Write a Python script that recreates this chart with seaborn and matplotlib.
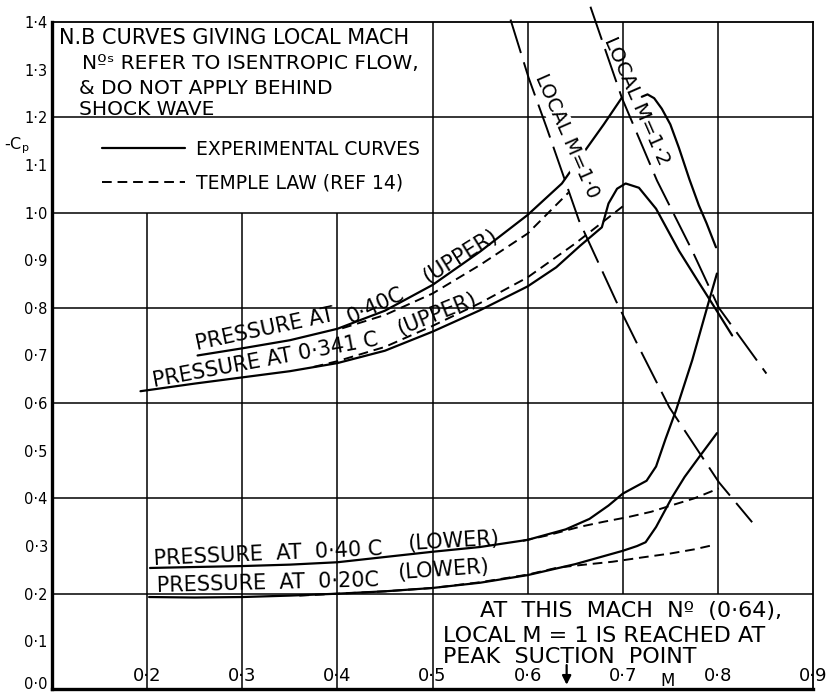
import matplotlib
matplotlib.use("Agg")
import matplotlib.pyplot as plt
from matplotlib.lines import Line2D
import seaborn as sns

# -Cp against free stream Mach number
# upper surface, 0.40c
up40_m = [0.253, 0.30, 0.35, 0.40, 0.45, 0.50, 0.55, 0.60, 0.636, 0.655, 0.68, 0.699]
up40_cp = [0.700, 0.715, 0.732, 0.756, 0.794, 0.848, 0.918, 0.995, 1.061, 1.115, 1.185, 1.241]
up40_hump_m = [0.720, 0.726, 0.733, 0.741, 0.750, 0.759, 0.770, 0.780, 0.788, 0.798]
up40_hump_cp = [1.243, 1.248, 1.240, 1.218, 1.185, 1.136, 1.070, 1.015, 0.978, 0.927]
up40_temple_m = [0.405, 0.45, 0.50, 0.55, 0.60, 0.643]
up40_temple_cp = [0.757, 0.785, 0.830, 0.890, 0.956, 1.042]

# upper surface, 0.341c
up341_m = [0.193, 0.25, 0.30, 0.35, 0.40, 0.45, 0.50, 0.55, 0.60, 0.63, 0.655, 0.678,
           0.685, 0.694, 0.703, 0.717, 0.735, 0.759, 0.78, 0.80, 0.815]
up341_cp = [0.625, 0.641, 0.654, 0.667, 0.684, 0.710, 0.750, 0.795, 0.845, 0.885, 0.930, 0.969,
            1.019, 1.050, 1.061, 1.052, 1.008, 0.920, 0.853, 0.790, 0.742]
up341_temple_m = [0.375, 0.40, 0.45, 0.50, 0.55, 0.60, 0.65, 0.70]
up341_temple_cp = [0.676, 0.688, 0.718, 0.762, 0.810, 0.864, 0.935, 1.013]

# lower surface, 0.40c
lo40_m = [0.203, 0.25, 0.30, 0.35, 0.40, 0.45, 0.50, 0.55, 0.60, 0.64, 0.665, 0.685, 0.70,
          0.712, 0.725, 0.735, 0.745, 0.756, 0.773, 0.79, 0.799]
lo40_cp = [0.254, 0.256, 0.258, 0.261, 0.266, 0.277, 0.288, 0.298, 0.313, 0.335, 0.357, 0.385,
           0.410, 0.423, 0.437, 0.467, 0.525, 0.585, 0.690, 0.810, 0.872]
lo40_temple_m = [0.595, 0.62, 0.654, 0.68, 0.706, 0.73, 0.749, 0.775, 0.801]
lo40_temple_cp = [0.311, 0.322, 0.340, 0.351, 0.361, 0.372, 0.384, 0.400, 0.421]

# lower surface, 0.20c
lo20_m = [0.202, 0.25, 0.30, 0.35, 0.40, 0.45, 0.50, 0.55, 0.60, 0.65, 0.70, 0.715, 0.724,
          0.735, 0.752, 0.765, 0.78, 0.799]
lo20_cp = [0.193, 0.192, 0.193, 0.196, 0.200, 0.205, 0.212, 0.223, 0.239, 0.262, 0.290, 0.300,
           0.308, 0.340, 0.403, 0.445, 0.486, 0.537]
lo20_temple_m = [0.36, 0.40, 0.45, 0.50, 0.55, 0.60, 0.632, 0.66, 0.689, 0.72, 0.749, 0.775, 0.795]
lo20_temple_cp = [0.196, 0.200, 0.205, 0.212, 0.224, 0.240, 0.255, 0.261, 0.267, 0.276, 0.284,
                  0.293, 0.302]

# local Mach number boundaries (isentropic)
local10_m = [0.582, 0.601, 0.62, 0.654, 0.693, 0.717, 0.749, 0.801, 0.836]
local10_cp = [1.405, 1.283, 1.178, 0.983, 0.814, 0.717, 0.591, 0.434, 0.350]
local12_m = [0.666, 0.699, 0.736, 0.773, 0.801, 0.851]
local12_cp = [1.432, 1.241, 1.067, 0.920, 0.800, 0.662]

x_ticks = [0.2, 0.3, 0.4, 0.5, 0.6, 0.7, 0.8, 0.9]
x_tick_labels = ["0·2", "0·3", "0·4", "0·5", "0·6", "0·7", "0·8", "0·9"]
y_ticks = [0.0, 0.1, 0.2, 0.3, 0.4, 0.5, 0.6, 0.7, 0.8, 0.9, 1.0, 1.1, 1.2, 1.3, 1.4]
y_tick_labels = ["0·0", "0·1", "0·2", "0·3", "0·4", "0·5", "0·6", "0·7", "0·8", "0·9",
                 "1·0", "1·1", "1·2", "1·3", "1·4"]
y_minor_ticks = [0.3, 0.5, 0.7, 0.9, 1.1, 1.3]

sns.set_style("white")
plt.rcParams['font.family'] = ['DejaVu Sans']
plt.rcParams['mathtext.fontset'] = 'dejavusans'
plt.rcParams['text.color'] = 'black'
plt.rcParams['axes.labelcolor'] = 'black'
plt.rcParams['xtick.color'] = 'black'
plt.rcParams['ytick.color'] = 'black'

fig = plt.figure(figsize=(8.27, 6.93), dpi=100)
ax = fig.add_axes([0.0629, 0.0058, 0.9202, 0.9625])
ax.set_xlim(0.1, 0.9)
ax.set_ylim(0.0, 1.4)

# grid as hand drawn: left open behind the notes
gk = dict(color='black', lw=1.1, zorder=1)
ax.hlines([0.2, 0.4, 0.6, 0.8, 1.0, 1.2], 0.1, 0.9, **gk)
ax.vlines([0.2, 0.3, 0.4], 0.0, 1.0, **gk)
ax.vlines([0.5], 0.0, 1.4, **gk)
ax.vlines([0.6, 0.7, 0.8], 0.2, 1.4, **gk)

temple_ls = (0, (5, 3))
local_ls = (0, (18, 5))


def curve(m, cp, ls='-', lw=1.6, z=2, clip=True):
    sns.lineplot(x=m, y=cp, ax=ax, color='black', linewidth=lw, linestyle=ls,
                 sort=False, estimator=None, zorder=z, clip_on=clip)


curve(up40_m, up40_cp)
curve(up40_hump_m, up40_hump_cp)
curve(up40_temple_m, up40_temple_cp, ls=temple_ls, lw=1.4)
curve(up341_m, up341_cp)
curve(up341_temple_m, up341_temple_cp, ls=temple_ls, lw=1.4)
curve(lo40_m, lo40_cp)
curve(lo40_temple_m, lo40_temple_cp, ls=temple_ls, lw=1.4)
curve(lo20_m, lo20_cp)
curve(lo20_temple_m, lo20_temple_cp, ls=temple_ls, lw=1.4)
curve(local10_m, local10_cp, ls=local_ls, lw=1.4, z=4, clip=False)
curve(local12_m, local12_cp, ls=local_ls, lw=1.4, z=4, clip=False)

# axes frame and ticks
for side in ['left', 'bottom']:
    ax.spines[side].set_linewidth(2.4)
for side in ['top', 'right']:
    ax.spines[side].set_linewidth(1.3)
for s in ax.spines.values():
    s.set_color('black')

ax.set_xticks(x_ticks, labels=x_tick_labels)
ax.set_yticks(y_ticks, labels=y_tick_labels)
ax.set_yticks(y_minor_ticks, minor=True)
ax.tick_params(axis='x', which='both', length=0, pad=-16, labelsize=13, colors='black')
ax.tick_params(axis='y', which='major', length=0, pad=3, labelsize=10.5, colors='black')
ax.tick_params(axis='y', which='minor', direction='in', length=9, width=1.2, color='black')
ax.get_yticklabels()[0].set_va('baseline')
ax.set_xlabel("")
ax.set_ylabel("")

ax.text(0.063, 1.141, "-C$_\\mathrm{p}$", fontsize=11.5, ha='center', va='center',
        clip_on=False)
ax.text(0.747, 0.017, "M", fontsize=12, ha='center', va='center')
ax.annotate("", xy=(0.641, 0.003), xytext=(0.641, 0.056),
            arrowprops=dict(arrowstyle='-|>', color='black', lw=1.6, mutation_scale=13))

# note, top left
big = 14.5
ax.text(0.1072, 1.354, "N.B CURVES GIVING LOCAL MACH", fontsize=15, va='baseline')
ax.text(0.1314, 1.302, "Nºˢ REFER TO ISENTROPIC FLOW,", fontsize=big, va='baseline')
ax.text(0.1283, 1.249, "& DO NOT APPLY BEHIND", fontsize=big, va='baseline')
ax.text(0.1283, 1.205, "SHOCK WAVE", fontsize=big, va='baseline')

handles = [Line2D([], [], color='black', lw=1.6),
           Line2D([], [], color='black', lw=1.4, linestyle=temple_ls)]
ax.legend(handles, ["EXPERIMENTAL CURVES", "TEMPLE LAW (REF 14)"],
          loc='upper left', bbox_to_anchor=(0.0657, 0.8235), frameon=False,
          borderpad=0, borderaxespad=0, handlelength=4.4, handletextpad=0.6,
          labelspacing=0.8, fontsize=13.5)

# note, bottom right
ax.text(0.5502, 0.151, "AT  THIS  MACH  Nº  (0·64),", fontsize=16, va='baseline')
ax.text(0.5112, 0.0985, "LOCAL M = 1 IS REACHED AT", fontsize=16, va='baseline')
ax.text(0.5112, 0.0545, "PEAK  SUCTION  POINT", fontsize=16, va='baseline')

# curve labels
lab = dict(fontsize=15, ha='left', va='baseline', rotation_mode='anchor')
ax.text(0.2527, 0.711, "PRESSURE AT", rotation=12, **lab)
ax.text(0.4141, 0.766, "0·40C", rotation=25, **lab)
ax.text(0.4954, 0.851, "(UPPER)", rotation=32, **lab)
ax.text(0.2074, 0.634, "PRESSURE AT 0·341 C", rotation=10.5, **lab)
ax.text(0.4660, 0.743, "(UPPER)", rotation=22, **lab)
ax.text(0.2074, 0.260, "PRESSURE  AT  0·40 C", rotation=2.5, **lab)
ax.text(0.4743, 0.292, "(LOWER)", rotation=3.5, **lab)
ax.text(0.2105, 0.2034, "PRESSURE  AT  0·20C", rotation=1.5, **lab)
ax.text(0.4637, 0.231, "(LOWER)", rotation=4, **lab)

ax.text(0.641, 1.161, "LOCAL M=1·0", fontsize=14, rotation=-66.3, ha='center', va='center',
        rotation_mode='anchor', zorder=3,
        bbox=dict(boxstyle='square,pad=0.1', fc='white', ec='none'))
ax.text(0.715, 1.233, "LOCAL M=1·2", fontsize=14.5, rotation=-66.4, ha='center', va='center',
        rotation_mode='anchor', zorder=3)

fig.savefig("out.png", dpi=100)
